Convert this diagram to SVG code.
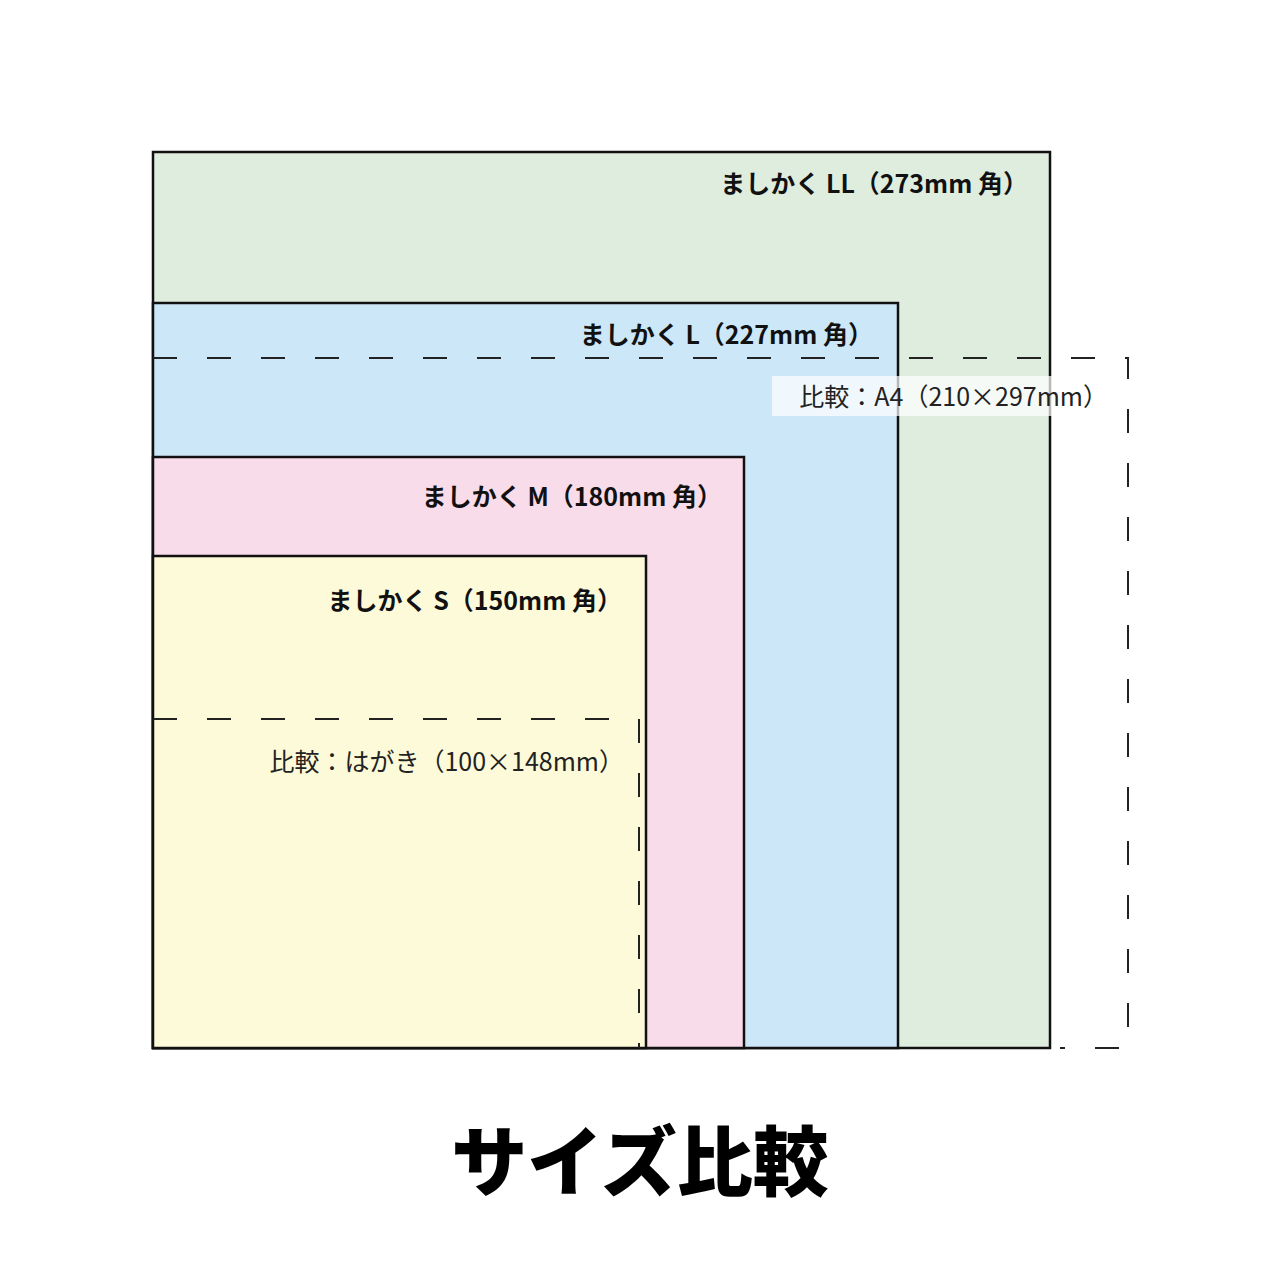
<svg xmlns="http://www.w3.org/2000/svg" width="1280" height="1280" viewBox="0 0 1280 1280">
<style>
.sq{stroke:#111;stroke-width:2.5}
.dash{fill:none;stroke:#222;stroke-width:2;stroke-dasharray:24 30}
.lb{font-family:"Noto Sans CJK JP","Liberation Sans",sans-serif;font-weight:bold;font-size:25px;fill:#111;text-anchor:end}
.cmp{font-family:"Noto Sans CJK JP","Liberation Sans",sans-serif;font-size:25px;fill:#222;text-anchor:end}
</style>
<rect width="1280" height="1280" fill="#fff"/>
<g id="LL"><rect class="sq" x="153" y="152" width="897" height="896" fill="#dfeddf"/><text class="lb" x="1028" y="193">ましかく LL（273mm 角）</text></g>
<g id="L"><rect class="sq" x="153" y="303" width="745" height="745" fill="#cce8f8"/><text class="lb" x="873" y="344">ましかく L（227mm 角）</text></g>
<g id="M"><rect class="sq" x="153" y="457" width="591" height="591" fill="#f9dce9"/><text class="lb" x="722" y="506">ましかく M（180mm 角）</text></g>
<g id="S"><rect class="sq" x="153" y="556" width="493" height="492" fill="#fdfad9"/><text class="lb" x="622" y="610">ましかく S（150mm 角）</text></g>
<g id="connectors">
<g id="A4"><path class="dash" d="M153 358 H1128 V1048 H1060"/><rect x="772" y="376" width="338" height="40" fill="#fff" opacity="0.7"/><text class="cmp" x="1108" y="406">比較：A4（210×297mm）</text></g>
<g id="hagaki"><path class="dash" d="M153 719 H639 V1048"/><text class="cmp" x="624" y="771">比較：はがき（100×148mm）</text></g>
</g>
<g id="title"><text x="640" y="1190" font-family="Noto Sans CJK JP,sans-serif" font-weight="900" font-size="76" text-anchor="middle" fill="#000">サイズ比較</text></g>
</svg>
